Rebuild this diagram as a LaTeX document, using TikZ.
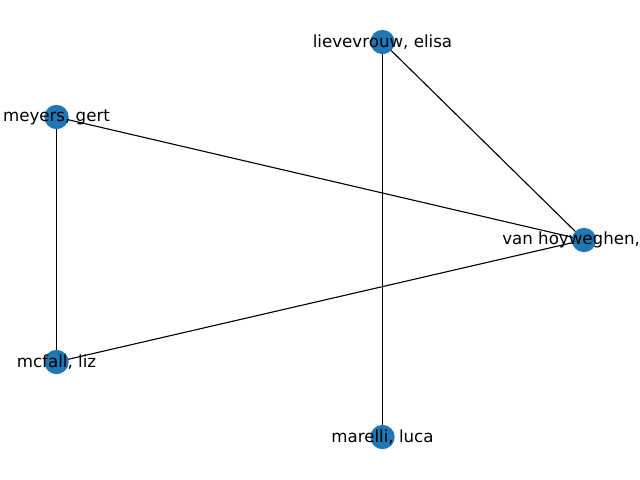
\documentclass[tikz,border=0pt]{standalone}
\usepackage{fontspec}
\setmainfont{DejaVu Sans}
\definecolor{nodeblue}{HTML}{1F77B4}
\begin{document}
\begin{tikzpicture}[x=0.72pt,y=-0.72pt,
  vertex/.style={circle,fill=nodeblue,draw=none,minimum size=17.5pt,inner sep=0pt},
  lbl/.style={inner sep=0pt,font=\fontsize{12pt}{14pt}\selectfont,text=black},
  edge/.style={draw=black,line width=0.8pt}]
\useasboundingbox (0,0) rectangle (640,480);
\clip (0,0) rectangle (640,480);
\coordinate (pl) at (382.5,42);
\coordinate (pm) at (56.5,117);
\coordinate (pv) at (584,240);
\coordinate (pc) at (56.5,362);
\coordinate (pa) at (382.5,437);
\draw[edge] (pl) -- (pa);
\draw[edge] (pl) -- (pv);
\draw[edge] (pm) -- (pv);
\draw[edge] (pm) -- (pc);
\draw[edge] (pc) -- (pv);
\node[vertex] (nl) at (pl) {};
\node[vertex] (nm) at (pm) {};
\node[vertex] (nv) at (pv) {};
\node[vertex] (nc) at (pc) {};
\node[vertex] (na) at (pa) {};
\node[lbl] (tl) at (pl) {lievevrouw, elisa};
\node[lbl] (tm) at (pm) {meyers, gert};
\node[lbl,anchor=west] (tv) at (502,240) {van hoyweghen,};
\node[lbl] (tc) at (pc) {mcfall, liz};
\node[lbl] (ta) at (pa) {marelli, luca};
\end{tikzpicture}
\end{document}
